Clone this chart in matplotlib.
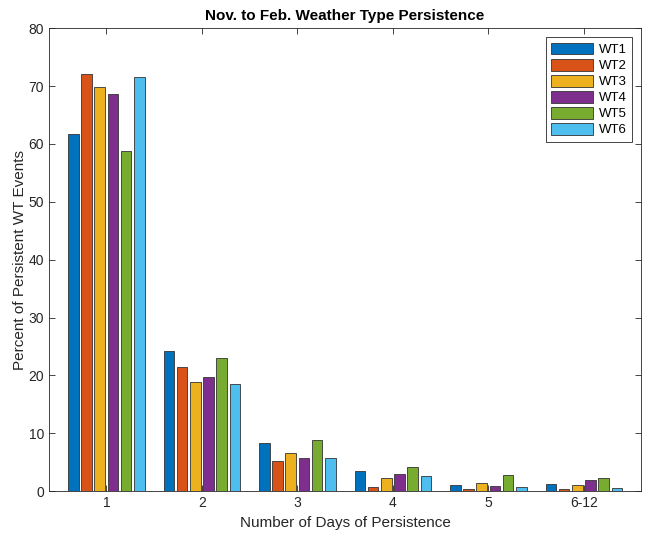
import numpy as np
import matplotlib.pyplot as plt

plt.rcParams['font.family'] = ['Liberation Sans', 'DejaVu Sans']

groups = ["1", "2", "3", "4", "5", "6-12"]
series = ["WT1", "WT2", "WT3", "WT4", "WT5", "WT6"]
wt1 = [61.7, 24.2, 8.3, 3.5, 1.1, 1.2]
wt2 = [72.0, 21.4, 5.2, 0.8, 0.4, 0.3]
wt3 = [69.8, 18.9, 6.6, 2.2, 1.4, 1.0]
wt4 = [68.6, 19.7, 5.8, 2.9, 0.9, 1.9]
wt5 = [58.7, 23.0, 8.9, 4.1, 2.8, 2.3]
wt6 = [71.5, 18.6, 5.8, 2.7, 0.7, 0.5]
values = [wt1, wt2, wt3, wt4, wt5, wt6]
colors = ["#0072BD", "#D95319", "#EDB120", "#7E2F8E", "#77AC30", "#4DBEEE"]

fig = plt.figure(figsize=(6.45, 5.41), dpi=100)
ax = fig.add_axes([0.076, 0.092, 0.918, 0.856])

x = np.arange(1, len(groups) + 1)
slot = 0.83 / len(series)
for i, (name, vals) in enumerate(zip(series, values)):
    offs = (i - (len(series) - 1) / 2) * slot
    ax.bar(x + offs, vals, width=slot * 0.8, color=colors[i],
           edgecolor="#333333", linewidth=0.6, label=name)

ax.set_xlim(0.4, 6.6)
ax.set_ylim(0, 80)
ax.set_xticks(x)
ax.set_xticklabels(groups)
ax.set_yticks(np.arange(0, 81, 10))
ax.tick_params(direction="in", top=True, right=True, length=4, width=0.6,
               labelsize=10, colors="#262626")
for s in ax.spines.values():
    s.set_color("#262626")
    s.set_linewidth(0.6)

ax.set_xlabel("Number of Days of Persistence", fontsize=11, color="#262626")
ax.set_ylabel("Percent of Persistent WT Events", fontsize=11, color="#262626",
              labelpad=1)
ax.set_title("Nov. to Feb. Weather Type Persistence", fontsize=11,
             fontweight="bold", pad=6)

leg = ax.legend(loc="upper right", fontsize=9.5, fancybox=False, framealpha=1,
                edgecolor="#262626", handlelength=3.2, handleheight=1.0,
                handletextpad=0.4, labelspacing=0.2, borderaxespad=0.7)
leg.get_frame().set_linewidth(0.6)

fig.savefig("out.png", dpi=100)
